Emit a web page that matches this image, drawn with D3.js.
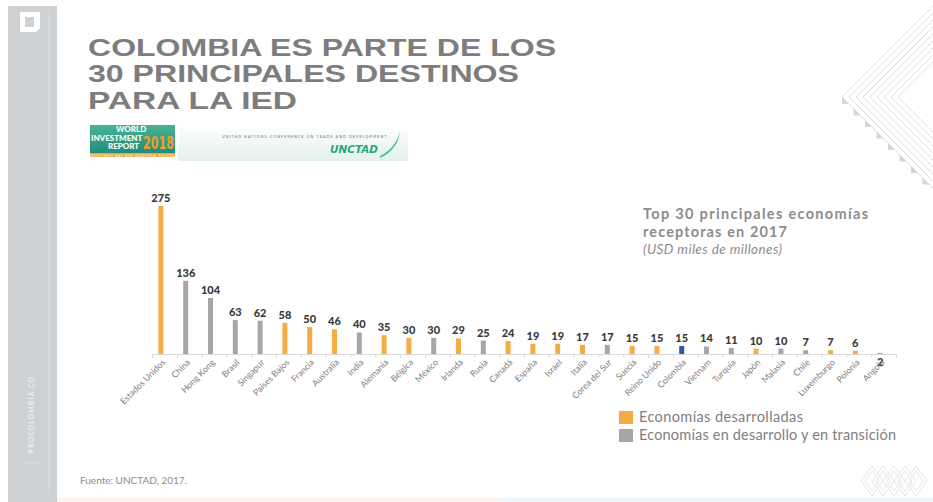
<!DOCTYPE html>
<html><head><meta charset="utf-8">
<script src="https://cdn.jsdelivr.net/npm/d3@7"></script>
<style>
html,body{margin:0;padding:0;background:#fff;}
svg{display:block;}
</style></head>
<body>
<svg id="c" width="933" height="502"></svg>
<script>
const countries = ["Estados Unidos","China","Hong Kong","Brasil","Singapur","Países Bajos","Francia","Australia","India","Alemania","Bélgica","México","Irlanda","Rusia","Canadá","España","Israel","Italia","Corea del Sur","Suecia","Reino Unido","Colombia","Vietnam","Turquía","Japón","Malasia","Chile","Luxemburgo","Polonia","Angola"];
const values = [275,136,104,63,62,58,50,46,40,35,30,30,29,25,24,19,19,17,17,15,15,15,14,11,10,10,7,7,6,2];
const groups = ["des","dev","dev","dev","dev","des","des","des","dev","des","des","dev","des","dev","des","des","des","des","dev","des","des","col","dev","dev","des","dev","dev","des","des","dev"];
const titleLines = ["COLOMBIA ES PARTE DE LOS","30 PRINCIPALES DESTINOS","PARA LA IED"];
const subtitleLines = ["Top 30 principales economías","receptoras en 2017"];
const unitLabel = "(USD miles de millones)";
const legendLabels = ["Economías desarrolladas","Economías en desarrollo y en transición"];
const source = "Fuente: UNCTAD, 2017.";

const colors = {des:"#F5AD43", dev:"#A6A6A6", col:"#2D5DA1"};
const svg = d3.select("#c");
const FONT = "Lato, 'Open Sans', sans-serif";

// ---- left sidebar ----
svg.append("rect").attr("x",8).attr("y",6).attr("width",49).attr("height",496).attr("fill","#CDD1D4");
svg.append("line").attr("x1",49).attr("x2",49).attr("y1",10).attr("y2",495).attr("stroke","#DDE0E2").attr("stroke-width",1);
svg.append("line").attr("x1",22).attr("x2",42).attr("y1",463).attr("y2",463).attr("stroke","#DDE0E2").attr("stroke-width",1);
svg.append("path").attr("d","M20,12 H40 V28 L36,32 H20 Z M25,17 V27 H34 V17 Z").attr("fill","#fff").attr("fill-rule","evenodd");
svg.append("text").attr("transform","translate(34,453) rotate(-90)")
  .attr("font-family",FONT).attr("font-size",6.5).attr("letter-spacing",1.3).attr("fill","#ECEEEF").attr("font-weight",700)
  .text("PROCOLOMBIA.CO");

// ---- right decoration (nested chevrons) ----
const dec = svg.append("g");
d3.range(9).forEach(i=>{
  const x0 = 842 + i*7;
  dec.append("polyline").attr("points",`${x0+100},-3 ${x0},97 ${x0+100},197`)
    .attr("fill","none").attr("stroke","#E0E0E0").attr("stroke-width",1);
});
d3.range(8).forEach(i=>{
  const x0 = 842 + i*11.5, y0 = 97 + i*11.5;
  dec.append("path").attr("d",`M${x0},${y0} L${x0+7},${y0+7} L${x0},${y0+7} Z`).attr("fill","#D6D6D6");
});
const bd = svg.append("g").attr("stroke","#E6E6E6").attr("fill","none");
d3.range(5).forEach(i=>{
  const cx = 872 + i*11;
  bd.append("path").attr("d",`M${cx},466 L${cx+11},481 L${cx},496 L${cx-11},481 Z`);
  bd.append("path").attr("d",`M${cx},471 L${cx+7},481 L${cx},491 L${cx-7},481 Z`);
});
svg.append("rect").attr("x",57).attr("y",498).attr("width",440).attr("height",4).attr("fill","#FDF3EC");
svg.append("rect").attr("x",497).attr("y",498).attr("width",436).attr("height",4).attr("fill","#EEF5F8");

// ---- title ----
const tl = [468, 431, 209];
titleLines.forEach((t,i)=>{
  svg.append("text").attr("x",88).attr("y",56+i*26.4)
    .attr("font-family","'Liberation Sans', Arial, sans-serif").attr("font-weight",700).attr("font-size",23.4)
    .attr("fill","#7D7D7D").attr("textLength",tl[i]).attr("lengthAdjust","spacingAndGlyphs").text(t);
});

// ---- logos ----
const defs = svg.append("defs");
const g1 = defs.append("linearGradient").attr("id","wir").attr("x1",0).attr("x2",0).attr("y1",0).attr("y2",1);
g1.append("stop").attr("offset","0").attr("stop-color","#49B394");
g1.append("stop").attr("offset","1").attr("stop-color","#1F8E77");
svg.append("rect").attr("x",90).attr("y",125).attr("width",85).attr("height",28).attr("fill","url(#wir)");
svg.append("rect").attr("x",90).attr("y",153).attr("width",85).attr("height",4).attr("fill","#F0A43A");
svg.append("text").attr("x",90).attr("y",157).attr("font-size",3).attr("font-family",FONT).attr("fill","#fff").attr("textLength",85).text("INVESTMENT AND NEW INDUSTRIAL POLICIES");
[["WORLD",132,116],["INVESTMENT",140.5,91],["REPORT",149,108]].forEach(([t,y,xx])=>{
  svg.append("text").attr("x",xx).attr("y",y)
    .attr("font-family",FONT).attr("font-weight",900).attr("font-size",8).attr("fill","#fff").text(t);
});
svg.append("text").attr("x",143).attr("y",149).attr("font-family","'DejaVu Sans Condensed', sans-serif").attr("font-weight",700)
  .attr("font-size",17).attr("fill","#F39B2D").attr("textLength",31).attr("lengthAdjust","spacingAndGlyphs").text("2018");
const g2 = defs.append("linearGradient").attr("id","unc").attr("x1",0).attr("x2",0).attr("y1",0).attr("y2",1);
g2.append("stop").attr("offset","0").attr("stop-color","#FFFFFF");
g2.append("stop").attr("offset","1").attr("stop-color","#E2F1EC");
svg.append("rect").attr("x",178).attr("y",125).attr("width",230).attr("height",36).attr("fill","url(#unc)");
svg.append("text").attr("x",222).attr("y",138).attr("font-family",FONT).attr("font-size",3.6).attr("fill","#666")
  .attr("textLength",165).attr("letter-spacing",0.5).text("UNITED NATIONS CONFERENCE ON TRADE AND DEVELOPMENT");
svg.append("text").attr("x",330).attr("y",153).attr("font-family","'DejaVu Sans', sans-serif").attr("font-weight",700).attr("font-style","italic")
  .attr("font-size",11).attr("fill","#2FA67F").attr("textLength",48).attr("lengthAdjust","spacingAndGlyphs").text("UNCTAD");
svg.append("path").attr("d","M380,158 Q398,150 400,131 Q396,148 380,156 Z").attr("fill","#58BF8C");

// ---- chart ----
const base = 354;
const x = d3.scaleBand().domain(countries).range([152.5, 896.5]).padding(0);
const y = d3.scaleLinear().domain([0, 275]).range([base, 206]);
const barW = 5;
const cx = c => x(c) + x.bandwidth()/2 - 4;

const axis = d3.axisBottom(x).tickSize(4).tickFormat("");
const ag = svg.append("g").attr("transform",`translate(0,${base})`).call(axis);
ag.select(".domain").attr("stroke","#D9D9D9").attr("d",`M152.5,0.5H896.5`);
ag.selectAll(".tick").attr("transform",d=>`translate(${x(d)},0)`);
ag.selectAll(".tick line").attr("stroke","#D9D9D9");
ag.append("line").attr("x1",896.5).attr("x2",896.5).attr("y1",0).attr("y2",4).attr("stroke","#D9D9D9");

const data = countries.map((c,i)=>({c, v:values[i], g:groups[i]}));

svg.append("g").selectAll("rect").data(data).join("rect")
  .attr("x",d=>cx(d.c)-barW/2).attr("width",barW)
  .attr("y",d=>y(d.v)).attr("height",d=>base-y(d.v))
  .attr("fill",d=>colors[d.g]);

svg.append("g").selectAll("text").data(data).join("text")
  .attr("x",d=>cx(d.c)).attr("y",d=>d.v<3 ? base+12 : y(d.v)-4)
  .attr("text-anchor","middle").attr("font-family",FONT).attr("font-weight",900)
  .attr("font-size",11).attr("fill","#3A3A3A").text(d=>d.v);

svg.append("g").selectAll("text").data(data).join("text")
  .attr("transform",d=>`translate(${cx(d.c)+5},${base+9}) rotate(-45)`)
  .attr("text-anchor","end").attr("font-family",FONT).attr("font-size",8.8)
  .attr("fill","#7F7F7F").text(d=>d.c);

// subtitle
const stl = [225, 144];
subtitleLines.forEach((t,i)=>{
  svg.append("text").attr("x",643).attr("y",219+i*17.5).attr("font-family",FONT).attr("font-weight",700)
    .attr("font-size",14.5).attr("fill","#8C8C8C").attr("textLength",stl[i]).attr("lengthAdjust","spacing").text(t);
});
svg.append("text").attr("x",643).attr("y",254).attr("font-family",FONT).attr("font-style","italic")
  .attr("font-size",13.5).attr("fill","#8C8C8C").attr("textLength",139).attr("lengthAdjust","spacing").text(unitLabel);

// legend
const llen = [164, 257];
const lg = svg.append("g");
[["des",0],["dev",1]].forEach(([k,i])=>{
  lg.append("rect").attr("x",619).attr("y",411+i*18).attr("width",14).attr("height",13).attr("fill",colors[k]);
  lg.append("text").attr("x",639).attr("y",422+i*18).attr("font-family",FONT).attr("font-size",14.5)
    .attr("fill","#808080").attr("textLength",llen[i]).attr("lengthAdjust","spacing").text(legendLabels[i]);
});

// source
svg.append("text").attr("x",80).attr("y",484).attr("font-family",FONT).attr("font-size",10)
  .attr("fill","#8C8C8C").text(source);
</script>
</body></html>
